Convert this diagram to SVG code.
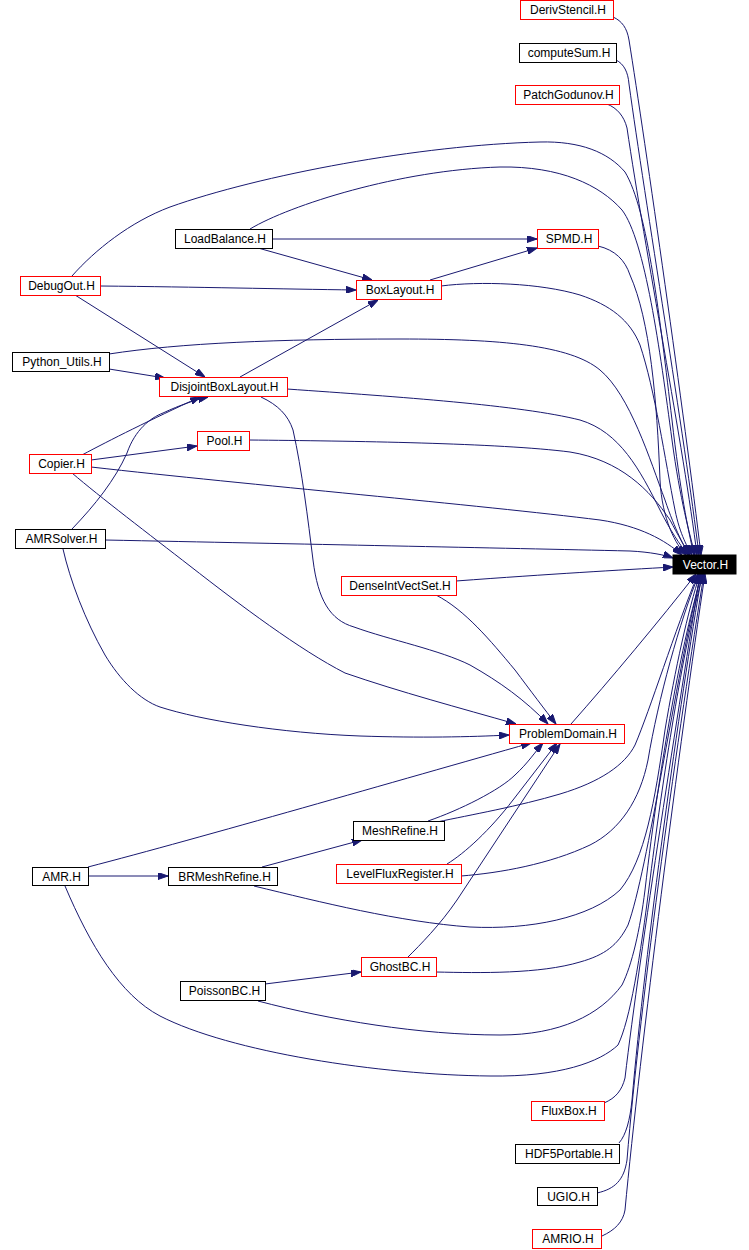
<svg xmlns="http://www.w3.org/2000/svg" width="749" height="1250" viewBox="0 0 749 1250">
<style>
.e{fill:none;stroke:#191970;stroke-width:1;marker-end:url(#ah)}
.n rect{fill:#ffffff;stroke:#000000;stroke-width:1}
.n.r rect{stroke:#ff0000}
.n text{font-family:"Liberation Sans",Arial,sans-serif;font-size:12px;text-anchor:middle;fill:#000000}
.n.k rect{fill:#000000;stroke:#000000}
.n.k text{fill:#ffffff}
</style>
<defs>
<marker id="ah" viewBox="0 0 10 7" refX="10" refY="3.5" markerWidth="10" markerHeight="7" orient="auto" markerUnits="userSpaceOnUse">
<path d="M0,0 L10,3.5 L0,7 z" fill="#191970" stroke="#191970" stroke-width="1"/>
</marker>
</defs>
<rect width="749" height="1250" fill="#ffffff"/>
<g id="edges">
<path class="e" d="M613,17 C622,21 627,28 629,40 C645,140 685,420 701,555"/>
<path class="e" d="M616,60 C624,64 628,72 629,84 C645,200 685,440 699,555"/>
<path class="e" d="M607,104 C617,108 624,116 627,128 C645,250 684,450 697,555"/>
<path class="e" d="M72,276 C95,250 130,222 170,207 C260,175 420,145 540,142 C580,141 608,152 625,172 C648,210 660,320 672,420 C680,490 688,530 694,555"/>
<path class="e" d="M250,229 C290,205 400,170 500,167 C560,166 600,185 622,210 C645,240 660,350 672,440 C680,500 690,535 695,555"/>
<path class="e" d="M598,246 C615,250 625,260 630,275 C650,320 657,400 660,480 C662,520 676,545 686,555"/>
<path class="e" d="M441,286 C480,281 540,283 580,295 C610,305 630,320 640,345 C655,390 665,460 675,510 C680,535 688,548 692,555"/>
<path class="e" d="M109,354 C180,343 280,339 400,339 C500,339 570,345 600,370 C630,395 650,460 665,500 C675,530 685,548 689,555"/>
<path class="e" d="M287,389 C400,397 520,405 580,420 C620,432 640,470 660,510 C670,530 680,545 688,555"/>
<path class="e" d="M249,440 C350,441 500,443 570,452 C620,460 650,490 670,520 C678,535 685,548 690,555"/>
<path class="e" d="M91,467 C250,485 480,505 600,520 C640,526 665,540 682,555"/>
<path class="e" d="M105,540 C300,544 500,548 630,551 C650,552 665,555 673,558"/>
<path class="e" d="M456,581 C550,574 620,570 673,567"/>
<path class="e" d="M571,724 C610,680 660,620 696,574"/>
<path class="e" d="M437,822 C470,815 520,806 560,794 C600,782 625,765 635,745 C650,710 675,630 698,574"/>
<path class="e" d="M461,876 C500,873 550,864 590,845 C620,830 640,800 648,760 C658,700 680,620 699,574"/>
<path class="e" d="M254,886 C320,902 400,922 470,927 C530,930 590,918 620,890 C645,860 655,800 665,730 C675,670 688,610 700,574"/>
<path class="e" d="M436,972 C480,973 540,974 580,962 C605,955 618,945 628,925 C648,870 675,680 701,574"/>
<path class="e" d="M258,1001 C330,1020 420,1035 500,1035 C560,1035 600,1015 622,985 C632,965 640,930 645,890 C660,760 682,640 702,574"/>
<path class="e" d="M65,886 C90,945 120,995 160,1016 C230,1052 380,1075 490,1076 C560,1077 600,1062 618,1045 C630,1020 640,960 650,880 C665,760 685,640 703,574"/>
<path class="e" d="M604,1103 C616,1098 622,1090 625,1078 C640,950 680,700 700,574"/>
<path class="e" d="M619,1143 C626,1135 630,1120 632,1100 C645,950 680,700 702,574"/>
<path class="e" d="M597,1193 C615,1189 624,1180 627,1160 C640,1000 680,720 704,574"/>
<path class="e" d="M602,1236 C615,1230 623,1222 625,1210 C640,1050 680,740 705,574"/>
<path class="e" d="M261,397 C278,405 288,415 293,430 C302,470 308,520 313,560 C318,600 330,620 354,627 C390,640 440,650 470,665 C500,682 525,700 548,724"/>
<path class="e" d="M72,473 C100,497 150,535 190,566 C240,605 300,650 345,673 C400,692 460,708 516,724"/>
<path class="e" d="M63,549 C70,580 85,620 105,655 C120,680 140,700 160,707 C200,720 280,733 360,736 C420,738 470,737 509,735"/>
<path class="e" d="M436,595 C465,610 490,640 515,670 C530,690 545,710 556,724"/>
<path class="e" d="M88,867 C200,838 400,780 531,743"/>
<path class="e" d="M428,821 C460,810 500,790 515,775 C528,763 535,752 543,743"/>
<path class="e" d="M447,864 C465,853 490,830 513,800 L557,743"/>
<path class="e" d="M408,957 C420,945 440,925 457,900 L560,744"/>
<path class="e" d="M272,239 L537,239"/>
<path class="e" d="M258,248 L372,280"/>
<path class="e" d="M100,286 C200,287 280,289 356,290"/>
<path class="e" d="M75,295 L205,377"/>
<path class="e" d="M430,280 L537,248"/>
<path class="e" d="M240,377 L378,300"/>
<path class="e" d="M109,369 L165,378"/>
<path class="e" d="M82,455 C110,440 150,420 200,397"/>
<path class="e" d="M72,529 C95,505 115,480 127,453 C135,430 150,418 163,413 C180,405 195,400 208,397"/>
<path class="e" d="M91,460 L197,446"/>
<path class="e" d="M88,876 L168,876"/>
<path class="e" d="M262,867 L362,840"/>
<path class="e" d="M265,984 L361,972"/>
</g>
<g id="DerivStencil" class="n r"><rect x="520.5" y="0.5" width="93" height="19"/><text x="568" y="14">DerivStencil.H</text></g>
<g id="computeSum" class="n"><rect x="519.5" y="43.5" width="97" height="19"/><text x="569" y="57">computeSum.H</text></g>
<g id="PatchGodunov" class="n r"><rect x="515.5" y="85.5" width="104" height="19"/><text x="568.5" y="99">PatchGodunov.H</text></g>
<g id="LoadBalance" class="n"><rect x="175.5" y="229.5" width="97" height="19"/><text x="225" y="243">LoadBalance.H</text></g>
<g id="SPMD" class="n r"><rect x="537.5" y="229.5" width="61" height="19"/><text x="569" y="243">SPMD.H</text></g>
<g id="DebugOut" class="n r"><rect x="20.5" y="276.5" width="80" height="19"/><text x="61.5" y="290">DebugOut.H</text></g>
<g id="BoxLayout" class="n r"><rect x="356.5" y="280.5" width="85" height="19"/><text x="400" y="294">BoxLayout.H</text></g>
<g id="Python_Utils" class="n"><rect x="12.5" y="352.5" width="97" height="19"/><text x="62" y="366">Python_Utils.H</text></g>
<g id="DisjointBoxLayout" class="n r"><rect x="159.5" y="377.5" width="128" height="19"/><text x="224.5" y="391">DisjointBoxLayout.H</text></g>
<g id="Pool" class="n r"><rect x="197.5" y="431.5" width="52" height="19"/><text x="224.5" y="445">Pool.H</text></g>
<g id="Copier" class="n r"><rect x="29.5" y="454.5" width="62" height="19"/><text x="61.5" y="468">Copier.H</text></g>
<g id="AMRSolver" class="n"><rect x="15.5" y="529.5" width="90" height="19"/><text x="61.5" y="543">AMRSolver.H</text></g>
<g id="Vector" class="n k"><rect x="673" y="555" width="63" height="19"/><text x="705.5" y="569">Vector.H</text></g>
<g id="DenseIntVectSet" class="n r"><rect x="341.5" y="576.5" width="115" height="19"/><text x="400" y="590">DenseIntVectSet.H</text></g>
<g id="ProblemDomain" class="n r"><rect x="509.5" y="724.5" width="115" height="19"/><text x="568" y="738">ProblemDomain.H</text></g>
<g id="MeshRefine" class="n"><rect x="353.5" y="821.5" width="91" height="19"/><text x="400" y="835">MeshRefine.H</text></g>
<g id="LevelFluxRegister" class="n r"><rect x="336.5" y="864.5" width="125" height="19"/><text x="400" y="878">LevelFluxRegister.H</text></g>
<g id="AMR" class="n"><rect x="32.5" y="867.5" width="56" height="18"/><text x="61.5" y="881">AMR.H</text></g>
<g id="BRMeshRefine" class="n"><rect x="168.5" y="867.5" width="109" height="18"/><text x="224.5" y="881">BRMeshRefine.H</text></g>
<g id="GhostBC" class="n r"><rect x="361.5" y="957.5" width="75" height="19"/><text x="400" y="971">GhostBC.H</text></g>
<g id="PoissonBC" class="n"><rect x="180.5" y="981.5" width="85" height="19"/><text x="224.5" y="995">PoissonBC.H</text></g>
<g id="FluxBox" class="n r"><rect x="531.5" y="1101.5" width="73" height="19"/><text x="569" y="1115">FluxBox.H</text></g>
<g id="HDF5Portable" class="n"><rect x="515.5" y="1144.5" width="104" height="19"/><text x="569" y="1158">HDF5Portable.H</text></g>
<g id="UGIO" class="n"><rect x="537.5" y="1187.5" width="60" height="18"/><text x="568.5" y="1201">UGIO.H</text></g>
<g id="AMRIO" class="n r"><rect x="532.5" y="1229.5" width="69" height="19"/><text x="568" y="1243">AMRIO.H</text></g>
</svg>
